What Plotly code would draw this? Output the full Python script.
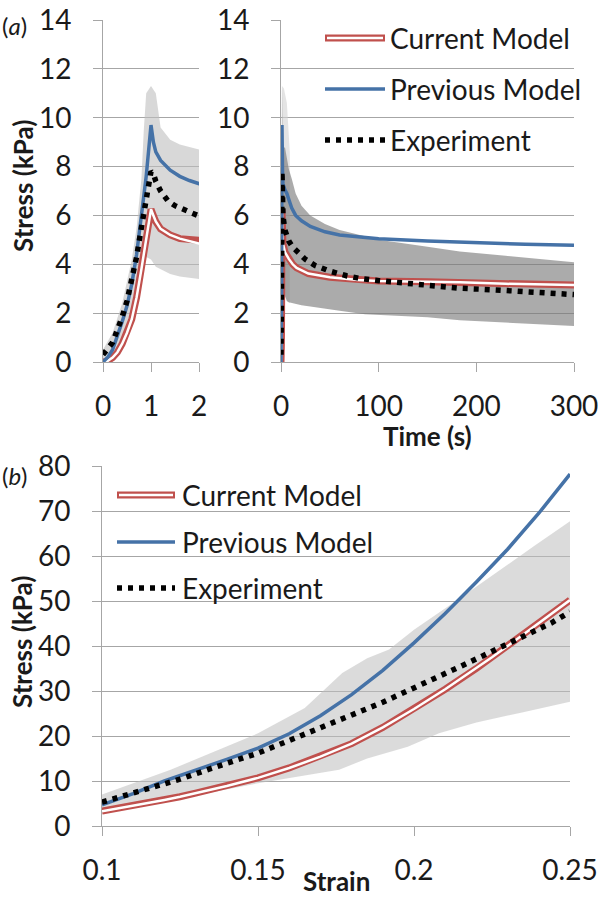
import plotly.graph_objects as go

# ---------------- data: panel (a) stress relaxation ----------------
cur_t = [0, 0.1, 0.2, 0.3, 0.4, 0.5, 0.6, 0.7, 0.8, 0.9, 0.97, 1.0, 1.05, 1.1, 1.2, 1.4, 1.6, 1.8, 2.0,
         4, 6, 8, 12, 16, 28, 50, 79, 100, 150, 183, 230, 300]
cur_s = [0, 0.05, 0.18, 0.4, 0.75, 1.2, 1.75, 2.65, 3.8, 5.1, 6.0, 6.25, 6.0, 5.75, 5.45, 5.2, 5.05, 4.95, 4.85,
         4.5, 4.35, 4.22, 4.0, 3.85, 3.62, 3.47, 3.36, 3.32, 3.28, 3.26, 3.2, 3.15]

prev_t = [0, 0.1, 0.2, 0.3, 0.4, 0.5, 0.6, 0.7, 0.8, 0.9, 1.0, 1.05, 1.1, 1.2, 1.4, 1.6, 1.8, 2.0,
          4, 6, 8, 11, 15, 21, 30, 45, 60, 86, 100, 150, 200, 250, 300]
prev_s = [0, 0.2, 0.5, 1.05, 1.65, 2.3, 3.2, 4.4, 5.9, 7.6, 9.7, 9.0, 8.6, 8.25, 7.85, 7.6, 7.43, 7.3,
          7.05, 6.9, 6.65, 6.3, 6.0, 5.78, 5.55, 5.33, 5.2, 5.09, 5.05, 4.95, 4.88, 4.82, 4.78]

exp_t = [0, 0.05, 0.1, 0.2, 0.3, 0.4, 0.5, 0.6, 0.7, 0.8, 0.9, 0.95, 1.0, 1.05, 1.1, 1.2, 1.35, 1.5, 1.7, 1.85, 2.0,
         4, 6, 8, 12, 16, 25, 35, 50, 67, 81, 100, 150, 183, 220, 260, 300]
exp_s = [0.3, 0.4, 0.55, 0.8, 1.3, 1.85, 2.5, 3.3, 4.3, 5.5, 6.8, 7.5, 7.8, 7.7, 7.4, 7.0, 6.6, 6.4, 6.2, 6.1, 5.98,
         5.4, 5.1, 4.95, 4.7, 4.55, 4.2, 3.95, 3.72, 3.53, 3.42, 3.33, 3.13, 3.02, 2.95, 2.85, 2.76]

band_t = [0, 0.2, 0.4, 0.6, 0.7, 0.8, 0.85, 0.9, 1.0, 1.1, 1.2, 1.4, 1.6, 1.8, 2.0,
          4, 6, 8, 11, 15, 21, 30, 45, 60, 86, 100, 150, 183, 230, 300]
band_hi = [0.5, 1.2, 2.4, 4.2, 5.5, 7.5, 9.5, 11.0, 11.3, 11.0, 9.6, 9.1, 8.9, 8.8, 8.7,
           8.8, 8.3, 7.9, 7.5, 6.9, 6.4, 6.0, 5.65, 5.4, 5.15, 5.0, 4.72, 4.52, 4.35, 4.08]
band_lo = [0, 0.3, 1.0, 2.2, 3.0, 3.8, 4.1, 4.3, 4.2, 3.9, 3.8, 3.6, 3.5, 3.45, 3.4,
           2.7, 2.5, 2.45, 2.4, 2.37, 2.32, 2.27, 2.2, 2.1, 1.95, 1.92, 1.83, 1.71, 1.62, 1.47]

# light haze above the band just after the ramp (right panel)
haze_t = [0, 1, 3, 6, 9]
haze_hi = [0.5, 11.3, 11.2, 10.6, 8.6]
haze_lo = [0, 4.2, 3.0, 2.5, 2.4]

# ---------------- data: panel (b) stress-strain ----------------
strain_cur = [0.1, 0.11, 0.12, 0.125, 0.13, 0.14, 0.15, 0.16, 0.17, 0.175, 0.18, 0.19, 0.2, 0.21, 0.22, 0.225, 0.23, 0.24, 0.25]
cur_b = [3.3, 4.5, 5.8, 6.5, 7.3, 8.9, 10.7, 12.9, 15.4, 16.8, 18.3, 21.9, 26.0, 30.4, 35.0, 37.5, 40.0, 45.0, 50.2]

strain_prev = [0.1, 0.11, 0.12, 0.13, 0.14, 0.15, 0.16, 0.17, 0.18, 0.19, 0.2, 0.21, 0.22, 0.23, 0.24, 0.25]
prev_b = [4.7, 7.2, 10.0, 12.3, 14.8, 17.3, 20.5, 24.5, 29.2, 34.6, 40.7, 47.2, 54.2, 61.5, 69.5, 78.2]

strain_exp = [0.1, 0.11, 0.12, 0.125, 0.135, 0.144, 0.15, 0.16, 0.17, 0.178, 0.19, 0.2, 0.208, 0.215, 0.222, 0.23, 0.237, 0.244, 0.25]
exp_b = [5.3, 7.3, 9.3, 10.4, 12.8, 15.0, 16.2, 19.0, 21.7, 24.1, 27.5, 30.6, 33.2, 35.5, 37.8, 40.3, 42.8, 45.1, 47.6]

band_b_hi_x = [0.1, 0.122, 0.15, 0.165, 0.177, 0.185, 0.192, 0.2, 0.214, 0.226, 0.2385, 0.25]
band_b_hi = [7.0, 12.5, 20.6, 26.2, 34.0, 37.3, 39.2, 43.6, 50.3, 56.2, 62.2, 67.7]
band_b_lo_x = [0.1, 0.15, 0.176, 0.185, 0.198, 0.208, 0.22, 0.235, 0.25]
band_b_lo = [2.8, 9.5, 12.5, 15.0, 17.6, 20.6, 23.0, 25.3, 27.6]

# tick values
y_ticks_a = [0, 2, 4, 6, 8, 10, 12, 14]
x_ticks_a1 = [0, 1, 2]
x_ticks_a2 = [0, 100, 200, 300]
y_ticks_b = [0, 10, 20, 30, 40, 50, 60, 70, 80]
x_ticks_b = [0.1, 0.15, 0.2, 0.25]
x_tick_text_b = ["0.1", "0.15", "0.2", "0.25"]

legend_names = ["Current Model", "Previous Model", "Experiment"]

# ---------------- styles ----------------
RED = "#c0504d"
BLUE = "#4572a7"
GRID = "#a6a6a6"
FONT = "Lato"
TXT = "#1a1a1a"
FS = 28
W, H = 598, 900
DOT = "5px,6px"
TOP_A = 20   # pixel row of the top gridline in panel (a)

fig = go.Figure()


def add_band(xhi, yhi, xlo, ylo, xa, ya, color):
    fig.add_trace(go.Scatter(x=list(xhi) + list(xlo)[::-1], y=list(yhi) + list(ylo)[::-1],
                             fill="toself", fillcolor=color, line=dict(width=0),
                             mode="lines", xaxis=xa, yaxis=ya, hoverinfo="skip"))


def add_lines(xc, yc, xp, yp, xe, ye, xa, ya):
    fig.add_trace(go.Scatter(x=xc, y=yc, mode="lines", line=dict(color=RED, width=7),
                             xaxis=xa, yaxis=ya, name=legend_names[0]))
    fig.add_trace(go.Scatter(x=xc, y=yc, mode="lines", line=dict(color="white", width=2.5),
                             xaxis=xa, yaxis=ya, hoverinfo="skip"))
    fig.add_trace(go.Scatter(x=xp, y=yp, mode="lines", line=dict(color=BLUE, width=3.5),
                             xaxis=xa, yaxis=ya, name=legend_names[1]))
    fig.add_trace(go.Scatter(x=xe, y=ye, mode="lines", line=dict(color="black", width=5.5, dash=DOT),
                             xaxis=xa, yaxis=ya, name=legend_names[2]))


# panel (a) left
add_band(band_t, band_hi, band_t, band_lo, "x", "y", "rgba(190,190,190,0.6)")
add_lines(cur_t, cur_s, prev_t, prev_s, exp_t, exp_s, "x", "y")
# panel (a) right
add_band(haze_t, haze_hi, haze_t, haze_lo, "x2", "y2", "rgba(210,210,210,0.6)")
add_band(band_t, band_hi, band_t, band_lo, "x2", "y2", "rgba(120,120,120,0.62)")
add_lines(cur_t, cur_s, prev_t, prev_s, exp_t, exp_s, "x2", "y2")
# panel (b)
add_band(band_b_hi_x, band_b_hi, band_b_lo_x, band_b_lo, "x3", "y3", "rgba(190,190,190,0.55)")
add_lines(strain_cur, cur_b, strain_prev, prev_b, strain_exp, exp_b, "x3", "y3")


def px_x(p):
    return p / W


def px_y(p):
    return 1 - p / H


axis_common = dict(showline=True, linecolor=GRID, linewidth=1, ticks="outside", ticklen=9,
                   tickcolor=GRID, tickwidth=1, zeroline=False, automargin=False,
                   ticklabeloverflow="allow",
                   tickfont=dict(family=FONT, size=FS, color=TXT))

fig.update_layout(
    width=W, height=H, margin=dict(l=0, r=0, t=0, b=0),
    plot_bgcolor="white", paper_bgcolor="white", showlegend=False,
    font=dict(family=FONT, size=FS, color=TXT),
    xaxis=dict(domain=[px_x(103), px_x(199)], range=[0, 2], tickvals=x_ticks_a1, showgrid=False,
               anchor="y", ticklabelstandoff=10, **axis_common),
    yaxis=dict(domain=[px_y(362), px_y(TOP_A)], range=[0, 14], tickvals=y_ticks_a, showgrid=True,
               gridcolor=GRID, anchor="x", ticklabelstandoff=16, **axis_common),
    xaxis2=dict(domain=[px_x(281), px_x(574)], range=[0, 300], tickvals=x_ticks_a2, showgrid=False,
                anchor="y2", ticklabelstandoff=10, **axis_common),
    yaxis2=dict(domain=[px_y(362), px_y(TOP_A)], range=[0, 14], tickvals=y_ticks_a, showgrid=True,
                gridcolor=GRID, anchor="x2", ticklabelstandoff=16, **axis_common),
    xaxis3=dict(domain=[px_x(102), px_x(570)], range=[0.1, 0.25], tickvals=x_ticks_b,
                ticktext=x_tick_text_b, showgrid=False, anchor="y3", ticklabelstandoff=10, **axis_common),
    yaxis3=dict(domain=[px_y(826), px_y(466)], range=[0, 80], tickvals=y_ticks_b, showgrid=True,
                gridcolor=GRID, anchor="x3", ticklabelstandoff=16, **axis_common),
)

ann = []
# axis titles
ann.append(dict(text="<b>Stress (kPa)</b>", x=px_x(23), y=px_y(186), xref="paper", yref="paper",
                xanchor="center", yanchor="middle", textangle=-90, showarrow=False, font=dict(size=26)))
ann.append(dict(text="<b>Stress (kPa)</b>", x=px_x(22), y=px_y(642), xref="paper", yref="paper",
                xanchor="center", yanchor="middle", textangle=-90, showarrow=False, font=dict(size=26)))
ann.append(dict(text="<b>Time (s)</b>", x=px_x(427), y=px_y(436), xref="paper", yref="paper",
                xanchor="center", yanchor="middle", showarrow=False, font=dict(size=26)))
ann.append(dict(text="<b>Strain</b>", x=px_x(336), y=px_y(899), xref="paper", yref="paper",
                xanchor="center", yanchor="bottom", showarrow=False, font=dict(size=26)))
# panel labels
ann.append(dict(text="(<i>a</i>)", x=0, y=px_y(26), xref="paper", yref="paper", xanchor="left",
                yanchor="middle", showarrow=False, font=dict(size=24)))
ann.append(dict(text="(<i>b</i>)", x=0, y=px_y(476), xref="paper", yref="paper", xanchor="left",
                yanchor="middle", showarrow=False, font=dict(size=24)))

shapes = []


def add_legend(x0, x1, xt, rows):
    # current model: double line
    shapes.append(dict(type="line", xref="paper", yref="paper", x0=px_x(x0), x1=px_x(x1),
                       y0=px_y(rows[0]), y1=px_y(rows[0]), line=dict(color=RED, width=7)))
    shapes.append(dict(type="line", xref="paper", yref="paper", x0=px_x(x0 + 2), x1=px_x(x1 - 2),
                       y0=px_y(rows[0]), y1=px_y(rows[0]), line=dict(color="white", width=2.5)))
    shapes.append(dict(type="line", xref="paper", yref="paper", x0=px_x(x0), x1=px_x(x1),
                       y0=px_y(rows[1]), y1=px_y(rows[1]), line=dict(color=BLUE, width=3.5)))
    shapes.append(dict(type="line", xref="paper", yref="paper", x0=px_x(x0), x1=px_x(x1),
                       y0=px_y(rows[2]), y1=px_y(rows[2]), line=dict(color="black", width=5.5, dash=DOT)))
    for name, r in zip(legend_names, rows):
        ann.append(dict(text=name, x=px_x(xt), y=px_y(r), xref="paper", yref="paper", xanchor="left",
                        yanchor="middle", showarrow=False, font=dict(size=FS)))


add_legend(325, 385, 388, [38, 89, 140])
add_legend(117, 175, 180, [495, 542, 588])

fig.update_layout(annotations=ann, shapes=shapes)
fig.write_html("out.html", config={"displayModeBar": False},
               post_script="document.body.style.margin='0';document.body.style.overflow='hidden';")
